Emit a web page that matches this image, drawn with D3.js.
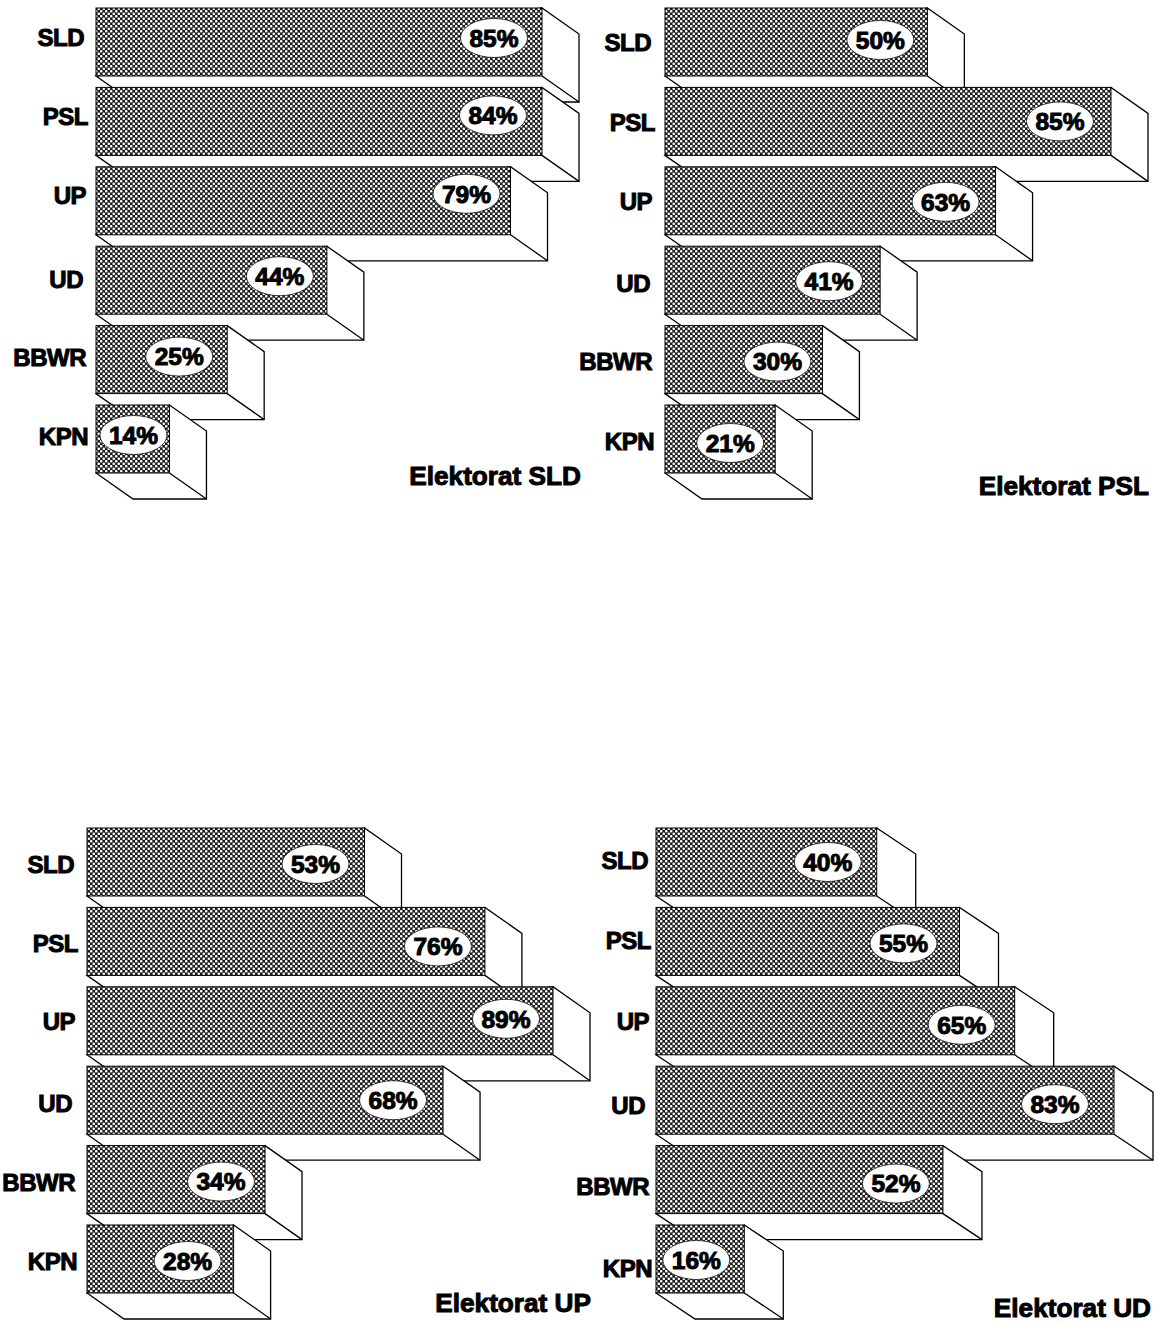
<!DOCTYPE html>
<html>
<head>
<meta charset="utf-8">
<title>Elektorat</title>
<script src="https://cdn.jsdelivr.net/npm/d3@7"></script>
<style>
  html, body { margin: 0; background: #fff; }
  svg { display: block; }
  text { font-family: "Liberation Sans", Arial, sans-serif; font-weight: bold; fill: #000; stroke: #000; stroke-width: 1px; }
</style>
</head>
<body>
<script>
var categories = ["SLD", "PSL", "UP", "UD", "BBWR", "KPN"];

// percentages printed on the bars
var sldValues = [85, 84, 79, 44, 25, 14];
var pslValues = [50, 85, 63, 41, 30, 21];
var upValues = [53, 76, 89, 68, 34, 28];
var udValues = [40, 55, 65, 83, 52, 16];

// the PSL bar in the first panel is drawn as long as the 85% one
var sldBarLengths = [85, 85, 79, 44, 25, 14];

var panels = [
  { title: "Elektorat SLD", values: sldValues, bars: sldBarLengths, max: 85, x0: 96, x1: 542, top: 8, depthX: 37, titleX: 581, titleY: 485,
    inset: [48, 49, 44, 47, 48, 36], pctDy: [-4, -6, -7, -4, -3, -4],
    catDx: [12, 8, 10, 13, 10, 8], catDy: [-5, -5, -5, -1, -2, -3] },
  { title: "Elektorat PSL", values: pslValues, bars: pslValues, max: 85, x0: 665, x1: 1111, top: 8, depthX: 37, titleX: 1149, titleY: 495,
    inset: [47, 51, 50, 51, 45, 45], pctDy: [-2, 0, 1, 1, 2, 4],
    catDx: [14, 10, 13, 15, 13, 11], catDy: [0, 1, 1, 3, 2, 2] },
  { title: "Elektorat UP", values: upValues, bars: upValues, max: 89, x0: 87, x1: 553, top: 828, depthX: 37, titleX: 591, titleY: 1312,
    inset: [49, 47, 47, 50, 44, 46], pctDy: [2, 5, -2, 0, 2, 2],
    catDx: [13, 9, 12, 15, 12, 10], catDy: [2, 2, 1, 3, 3, 2] },
  { title: "Elektorat UD", values: udValues, bars: udValues, max: 83, x0: 656, x1: 1114, top: 828, depthX: 39, titleX: 1151, titleY: 1317,
    inset: [49, 56, 53, 59, 47, 48], pctDy: [0, 2, 4, 4, 4, 1],
    catDx: [8, 5, 7, 11, 7, 4], catDy: [-2, -1, 1, 5, 7, 9] }
];

var barH = 68, depthY = 26;

var svg = d3.select("body").append("svg")
  .attr("width", 1158)
  .attr("height", 1322);

// crosshatch fill: light dots on a dark ground, every other row shifted
var pattern = svg.append("defs").append("pattern")
  .attr("id", "hatch")
  .attr("width", 5)
  .attr("height", 5)
  .attr("patternUnits", "userSpaceOnUse");
pattern.append("rect").attr("width", 5).attr("height", 5).attr("fill", "#1c1c1c");
pattern.selectAll("circle")
  .data([[1.25, 1.25], [3.75, 3.75]])
  .enter().append("circle")
  .attr("cx", function(c) { return c[0]; })
  .attr("cy", function(c) { return c[1]; })
  .attr("r", 1.3)
  .attr("fill", "#fff");

panels.forEach(function(p) {
  var x = d3.scaleLinear().domain([0, p.max]).range([p.x0, p.x1]);
  var y = d3.scalePoint().domain(categories).range([p.top, p.top + 397]);

  var g = svg.append("g");

  // drawn top to bottom so each bar hides the depth of the one above
  var rows = g.selectAll("g.row")
    .data(categories)
    .enter().append("g")
    .attr("class", "row");

  rows.append("path")
    .attr("d", function(d, i) {
      var l = p.x0, r = x(p.bars[i]), t = y(d), b = t + barH;
      return "M" + l + "," + b + "L" + (l + p.depthX) + "," + (b + depthY) +
        "L" + (r + p.depthX) + "," + (b + depthY) + "L" + (r + p.depthX) + "," + (t + depthY) +
        "L" + r + "," + t + "Z";
    })
    .attr("fill", "#fff")
    .attr("stroke", "#000")
    .attr("stroke-width", 1.3);

  rows.append("path")
    .attr("d", function(d, i) {
      var r = x(p.bars[i]), b = y(d) + barH;
      return "M" + r + "," + b + "L" + (r + p.depthX) + "," + (b + depthY);
    })
    .attr("stroke", "#000")
    .attr("stroke-width", 1.3);

  rows.append("rect")
    .attr("x", p.x0)
    .attr("y", function(d) { return y(d); })
    .attr("width", function(d, i) { return x(p.bars[i]) - p.x0; })
    .attr("height", barH)
    .attr("fill", "url(#hatch)")
    .attr("stroke", "#000")
    .attr("stroke-width", 1);

  rows.append("text")
    .attr("x", function(d, i) { return p.x0 - p.catDx[i]; })
    .attr("y", function(d, i) { return y(d) + barH / 2 + p.catDy[i]; })
    .attr("dy", "0.36em")
    .attr("text-anchor", "end")
    .attr("font-size", 24)
    .attr("letter-spacing", -0.5)
    .text(function(d) { return d; });

  rows.append("ellipse")
    .attr("cx", function(d, i) { return x(p.bars[i]) - p.inset[i]; })
    .attr("cy", function(d, i) { return y(d) + barH / 2 + p.pctDy[i]; })
    .attr("rx", 33.5)
    .attr("ry", 19.5)
    .attr("fill", "#fff")
    .attr("stroke", "#111")
    .attr("stroke-width", 0.8);

  rows.append("text")
    .attr("x", function(d, i) { return x(p.bars[i]) - p.inset[i]; })
    .attr("y", function(d, i) { return y(d) + barH / 2 + p.pctDy[i]; })
    .attr("dy", "0.36em")
    .attr("text-anchor", "middle")
    .attr("font-size", 24.5)
    .text(function(d, i) { return p.values[i] + "%"; });

  g.append("text")
    .attr("x", p.titleX)
    .attr("y", p.titleY)
    .attr("text-anchor", "end")
    .attr("font-size", 26.2)
    .text(p.title);
});
</script>
</body>
</html>
